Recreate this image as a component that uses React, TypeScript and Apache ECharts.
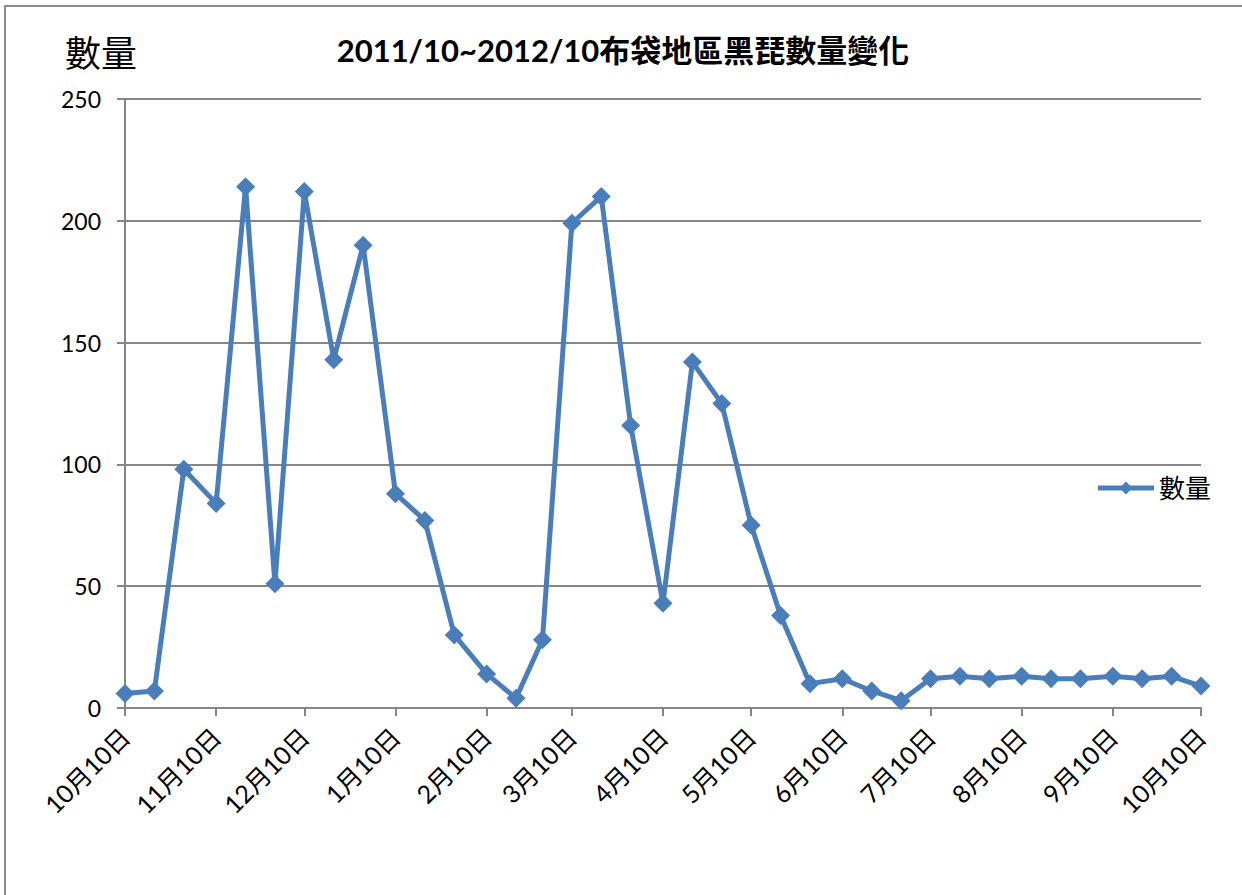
import React, { useEffect, useRef } from "react";
import * as echarts from "echarts";

const title = "2011/10~2012/10布袋地區黑琵數量變化";
const seriesName = "數量";

const sampleDates = [
  "2011-10-10", "2011-10-20", "2011-10-30",
  "2011-11-10", "2011-11-20", "2011-11-30",
  "2011-12-10", "2011-12-20", "2011-12-30",
  "2012-01-10", "2012-01-20", "2012-01-30",
  "2012-02-10", "2012-02-20", "2012-02-29",
  "2012-03-10", "2012-03-20", "2012-03-30",
  "2012-04-10", "2012-04-20", "2012-04-30",
  "2012-05-10", "2012-05-20", "2012-05-30",
  "2012-06-10", "2012-06-20", "2012-06-30",
  "2012-07-10", "2012-07-20", "2012-07-30",
  "2012-08-10", "2012-08-20", "2012-08-30",
  "2012-09-10", "2012-09-20", "2012-09-30",
  "2012-10-10",
];

const counts = [
  6, 7, 98,
  84, 214, 51,
  212, 143, 190,
  88, 77, 30,
  14, 4, 28,
  199, 210, 116,
  43, 142, 125,
  75, 38, 10,
  12, 7, 3,
  12, 13, 12,
  13, 12, 12,
  13, 12, 13,
  9,
];

const yTicks = [0, 50, 100, 150, 200, 250];

const startDate = "2011-10-10";
const endDate = "2012-10-10";

function buildDays(start: string, end: string): string[] {
  const out: string[] = [];
  const s = new Date(start + "T00:00:00Z");
  const e = new Date(end + "T00:00:00Z");
  for (let t = s.getTime(); t <= e.getTime(); t += 86400000) {
    out.push(new Date(t).toISOString().slice(0, 10));
  }
  return out;
}

const fontStack = 'Lato, "Noto Sans CJK TC", sans-serif';
const lineColor = "#4A7EBB";
const axisGrey = "#868686";

export default function App() {
  const ref = useRef<HTMLDivElement>(null);

  useEffect(() => {
    if (!ref.current) return;
    const chart = echarts.init(ref.current, undefined, { renderer: "svg" });
    const days = buildDays(startDate, endDate);
    const isTenth = (_i: number, v: string) => v.slice(8, 10) === "10";

    chart.setOption({
      animation: false,
      backgroundColor: "#ffffff",
      textStyle: { fontFamily: fontStack },
      title: {
        text: title,
        left: 618,
        top: 29,
        textAlign: "center",
        textStyle: {
          fontFamily: fontStack,
          fontSize: 31,
          fontWeight: "bold",
          color: "#000",
        },
      },
      graphic: [
        {
          type: "rect",
          shape: { x: 5, y: 6, width: 1400, height: 1000 },
          style: { fill: "none", stroke: "#8c8c8c", lineWidth: 2 },
          silent: true,
          z: -1,
        },
      ],
      legend: {
        right: 26,
        top: 470,
        orient: "vertical",
        itemWidth: 56,
        itemHeight: 16,
        itemGap: 4,
        lineStyle: { width: 5 },
        textStyle: { fontFamily: fontStack, fontSize: 26, color: "#000" },
        data: [seriesName],
      },
      grid: { left: 125, right: 41, top: 99, bottom: 187, containLabel: false },
      xAxis: {
        type: "category",
        data: days,
        boundaryGap: false,
        axisLine: { lineStyle: { color: axisGrey, width: 2 } },
        axisTick: {
          interval: isTenth,
          length: 8,
          lineStyle: { color: axisGrey, width: 2 },
        },
        axisLabel: {
          interval: isTenth,
          rotate: 45,
          margin: 24,
          fontSize: 25,
          color: "#000",
          fontFamily: fontStack,
          formatter: (v: string) =>
            `${parseInt(v.slice(5, 7), 10)}月${parseInt(v.slice(8, 10), 10)}日`,
        },
        splitLine: { show: false },
      },
      yAxis: {
        type: "value",
        min: yTicks[0],
        max: yTicks[yTicks.length - 1],
        interval: 50,
        name: seriesName,
        nameLocation: "end",
        nameGap: 28,
        nameTextStyle: {
          fontSize: 36,
          color: "#000",
          align: "center",
          padding: [0, 48, 0, 0],
          fontFamily: fontStack,
        },
        axisLine: { show: true, lineStyle: { color: axisGrey, width: 2 } },
        axisTick: { show: true, length: 8, lineStyle: { color: axisGrey, width: 2 } },
        axisLabel: { fontSize: 23, color: "#000", margin: 24, fontFamily: fontStack },
        splitLine: { lineStyle: { color: axisGrey, width: 2 } },
      },
      series: [
        {
          name: seriesName,
          type: "line",
          data: sampleDates.map((d, i) => [d, counts[i]]),
          symbol: "diamond",
          symbolSize: 19,
          showAllSymbol: true,
          lineStyle: { color: lineColor, width: 5 },
          itemStyle: { color: lineColor },
        },
      ],
    });

    return () => chart.dispose();
  }, []);

  return (
    <div
      ref={ref}
      style={{ position: "absolute", left: 0, top: 0, width: 1242, height: 895 }}
    />
  );
}
